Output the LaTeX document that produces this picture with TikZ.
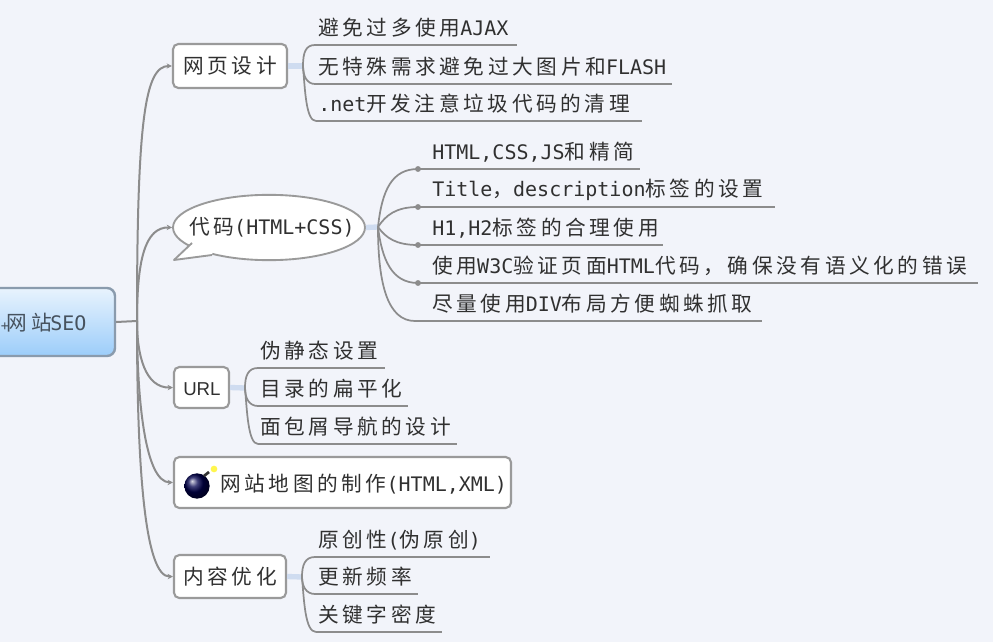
\documentclass[tikz,border=0pt]{standalone}
\usepackage{fontspec}
\usetikzlibrary{shapes.geometric,arrows.meta}
\newfontfamily\zhfont[LetterSpace=17.5]{Noto Sans CJK SC}
\newfontfamily\latfont{DejaVu Sans Mono}
\newfontfamily\urlfont{Liberation Sans}
\newcommand{\zhf}[1]{{\fontsize{15.5pt}{18pt}\zhfont #1}}
\newcommand{\latf}[1]{{\fontsize{15pt}{18pt}\latfont #1}}
\definecolor{bgc}{HTML}{F2F4FA}
\definecolor{inkc}{HTML}{303030}
\definecolor{linec}{HTML}{8C8C8C}
\definecolor{boxc}{HTML}{9A9A9A}
\definecolor{forkc}{HTML}{CFDCF0}
\definecolor{roottop}{HTML}{E8F3FD}
\definecolor{rootbot}{HTML}{9CCDFA}
\definecolor{rootline}{HTML}{8A9BAD}
\definecolor{roottext}{HTML}{46525E}
\tikzset{
  boxn/.style={draw=boxc,line width=1.6pt,fill=white,rounded corners=4pt,inner sep=0pt},
  txt/.style={anchor=west,inner sep=0pt,text=inkc},
  mainb/.style={draw=linec,line width=1.5pt,-{Stealth[length=4pt,width=4pt]}},
  subb/.style={draw=linec,line width=1.3pt},
  stub/.style={draw=forkc,line width=4pt},
  uline/.style={draw=linec,line width=1.5pt}
}
% name, start x, line y, end x, text x, text
\newcommand{\leaf}[6]{%
  \coordinate (#1s) at (#2,#3);
  \coordinate (#1e) at (#4,#3);
  \node[txt] (#1) at (#5,#3-17) {#6};
  \draw[uline] (#1s) -- (#1e);
}
\begin{document}
\begin{tikzpicture}[x=0.75pt,y=-0.75pt]
\useasboundingbox (0,0) rectangle (993,642);
\fill[bgc] (0,0) rectangle (993,642);
\clip (0,0) rectangle (993,642);
% root
\node[draw=rootline,line width=1.8pt,rounded corners=6pt,top color=roottop,bottom color=rootbot,minimum width=93.75pt,minimum height=51pt,inner sep=0pt] (root) at (52.5,322) {};
\node[txt,text=roottext] (roott) at (0.5,323) {{\fontsize{10pt}{18pt}\latfont +}\hspace{-1.5pt}\zhf{网站}\hspace{-1pt}\latf{SEO}};
% main boxes
\node[boxn,minimum width=85.5pt,minimum height=33pt] (a) at (230,66) {};
\node[txt] at (183,66) {\zhf{网页设计}};
\node[draw=boxc,line width=1.4pt,fill=white,ellipse,minimum width=144pt,minimum height=49pt,inner sep=0pt] (b) at (269,227.5) {};
\coordinate (bt1) at (192,243);
\coordinate (bt2) at (174,260);
\coordinate (bt3) at (212,255);
\fill[white] (bt1) -- (bt2) -- (bt3) -- (215,240) -- cycle;
\draw[draw=boxc,line width=1.4pt,line join=round] (bt1) -- (bt2) -- (bt3);
\node[txt] at (189,227) {\zhf{代码}\latf{(HTML+CSS)}};
\node[boxn,minimum width=41.25pt,minimum height=30.75pt] (c) at (201.5,387.5) {};
\node[txt] at (183,389) {\fontsize{14pt}{16pt}\urlfont URL};
\node[boxn,minimum width=252.75pt,minimum height=38.25pt] (d) at (342.5,482.5) {};
\node[txt] at (220,484) {\zhf{网站地图的制作}\latf{(HTML,XML)}};
\node[boxn,minimum width=84pt,minimum height=32.25pt] (e) at (230,576.5) {};
\node[txt] at (183,577) {\zhf{内容优化}};
% bomb
\shade[ball color=blue!30!black] (197,486) circle (9.5pt);
\draw[black!80,line width=2pt] (204,476) -- (209,472);
\fill[yellow!70!white] (214,469) circle (2.5pt);
% main branches
\coordinate (tr) at (137,321);
\draw[draw=linec,line width=1.5pt] (root.east) -- (tr);
\draw[mainb] (tr) .. controls (137,120) and (145,66) .. (a.west);
\draw[mainb] (tr) .. controls (137,260) and (145,227) .. (b.west);
\draw[mainb] (tr) .. controls (137,355) and (145,388) .. (c.west);
\draw[mainb] (tr) .. controls (137,400) and (145,482) .. (d.west);
\draw[mainb] (tr) .. controls (137,470) and (145,577) .. (e.west);
% leaves a
\coordinate (fa) at (303,66);
\draw[stub] (a.east) -- (fa);
\leaf{a1}{315}{45}{517}{318}{\zhf{避免过多使用}\latf{AJAX}}
\leaf{a2}{315}{84}{672}{318}{\zhf{无特殊需求避免过大图片和}\latf{FLASH}}
\leaf{a3}{316}{121}{642}{318}{\latf{.net}\zhf{开发注意垃圾代码的清理}}
\draw[subb] (fa) .. controls (303,52) and (306,45) .. (a1s);
\draw[subb] (fa) .. controls (303,76) and (307,84) .. (a2s);
\draw[subb] (fa) .. controls (305,90) and (306,121) .. (a3s);
% leaves b
\coordinate (fb) at (378,227);
\draw[stub] (b.east) -- (fb);
\leaf{b1}{418}{169}{640}{432}{\latf{HTML,CSS,JS}\zhf{和精简}}
\leaf{b2}{418}{207}{775}{432}{\latf{Title}\zhf{，}\latf{description}\zhf{标签的设置}}
\leaf{b3}{418}{245}{663}{432}{\latf{H1,H2}\zhf{标签的合理使用}}
\leaf{b4}{418}{283}{978}{432}{\zhf{使用}\latf{W3C}\zhf{验证页面}\latf{HTML}\zhf{代码，确保没有语义化的错误}}
\leaf{b5}{415}{321}{762}{432}{\zhf{尽量使用}\latf{DIV}\zhf{布局方便蜘蛛抓取}}
\draw[subb] (fb) .. controls (382,190) and (392,169) .. (b1s);
\draw[subb] (fb) .. controls (386,215) and (396,207) .. (b2s);
\draw[subb] (fb) .. controls (386,238) and (396,245) .. (b3s);
\draw[subb] (fb) .. controls (382,260) and (392,283) .. (b4s);
\draw[subb] (fb) .. controls (378,285) and (388,321) .. (b5s);
\foreach \n in {b1,b2,b3,b4}{\fill[linec] (\n s) circle (2.2pt);}
% leaves c
\coordinate (fc) at (245,388);
\draw[stub] (c.east) -- (fc);
\leaf{c1}{258}{368}{385}{260}{\zhf{伪静态设置}}
\leaf{c2}{258}{406}{408}{260}{\zhf{目录的扁平化}}
\leaf{c3}{258}{444}{457}{260}{\zhf{面包屑导航的设计}}
\draw[subb] (fc) .. controls (245,376) and (248,368) .. (c1s);
\draw[subb] (fc) .. controls (245,398) and (249,406) .. (c2s);
\draw[subb] (fc) .. controls (247,410) and (248,444) .. (c3s);
% leaves e
\coordinate (fe) at (302,577);
\draw[stub] (e.east) -- (fe);
\leaf{e1}{315}{557}{490}{318}{\zhf{原创性}\latf{(}\zhf{伪原创}\latf{)}}
\leaf{e2}{315}{594}{418}{318}{\zhf{更新频率}}
\leaf{e3}{316}{632}{442}{318}{\zhf{关键字密度}}
\draw[subb] (fe) .. controls (302,565) and (305,557) .. (e1s);
\draw[subb] (fe) .. controls (302,586) and (306,594) .. (e2s);
\draw[subb] (fe) .. controls (304,600) and (305,632) .. (e3s);
\end{tikzpicture}
\end{document}
